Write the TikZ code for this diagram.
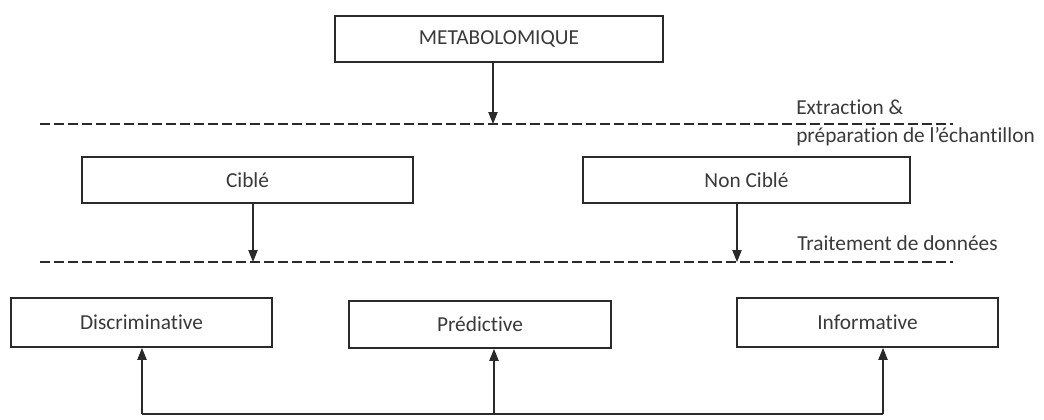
\documentclass[tikz,border=0pt]{standalone}
\usepackage{fontspec}
\setmainfont{Carlito}[Ligatures=NoCommon]
\usetikzlibrary{arrows.meta}
\definecolor{ink}{HTML}{2A2A2A}
\definecolor{txt}{HTML}{3A3A3A}
\tikzset{
  box/.style={draw=ink, line width=1.3pt, fill=white, inner sep=0pt, text=txt, font=\fontsize{16}{18}\selectfont},
  conn/.style={draw=ink, line width=0.9pt, -{Triangle[length=9pt,width=7pt]}},
  plain/.style={draw=ink, line width=0.9pt},
  sep/.style={draw=ink, line width=1pt, dash pattern=on 7.5pt off 3pt},
  lab/.style={text=txt, font=\fontsize{16}{18}\selectfont, inner sep=0pt, anchor=west}
}
\begin{document}
\begin{tikzpicture}[x=0.75pt,y=-0.75pt]
\useasboundingbox (0,0) rectangle (1044,419);
% boxes
\node[box, minimum width=328*0.75pt, minimum height=46*0.75pt] (meta) at (499,39) {METABOLOMIQUE};
\node[box, minimum width=331*0.75pt, minimum height=46*0.75pt] (cib) at (247.5,180) {Ciblé};
\node[box, minimum width=327*0.75pt, minimum height=46*0.75pt] (ncib) at (746.5,180) {Non Ciblé};
\node[box, minimum width=261*0.75pt, minimum height=49*0.75pt] (disc) at (141.5,322.5) {Discriminative};
\node[box, minimum width=262*0.75pt, minimum height=47*0.75pt] (pred) at (480,324.5) {Prédictive};
\node[box, minimum width=261*0.75pt, minimum height=49*0.75pt] (info) at (867.5,322.5) {Informative};
% separator lines
\coordinate (s1a) at (40,124); \coordinate (s1b) at (953,124);
\coordinate (s2a) at (40,262); \coordinate (s2b) at (953,262);
\draw[sep] (s1a) -- (s1b);
\draw[sep] (s2a) -- (s2b);
% labels
\node[lab] (l1) at (796,107) {Extraction \&};
\node[lab] (l2) at (796,137) {préparation de l’échantillon};
\node[lab] (l3) at (797,243) {Traitement de données};
% arrows to separators
\coordinate (t1) at (493,124);
\coordinate (t2) at (253,262);
\coordinate (t3) at (737,262);
\draw[conn] (meta.south -| t1) -- (t1);
\draw[conn] (cib.south -| t2) -- (t2);
\draw[conn] (ncib.south -| t3) -- (t3);
% bottom bus
\coordinate (b1) at (142,414);
\coordinate (b2) at (494,414);
\coordinate (b3) at (883,414);
\draw[plain] (b1) -- (b3);
\draw[conn] (b1) -- (b1 |- disc.south);
\draw[conn] (b2) -- (b2 |- pred.south);
\draw[conn] (b3) -- (b3 |- info.south);
\end{tikzpicture}
\end{document}
